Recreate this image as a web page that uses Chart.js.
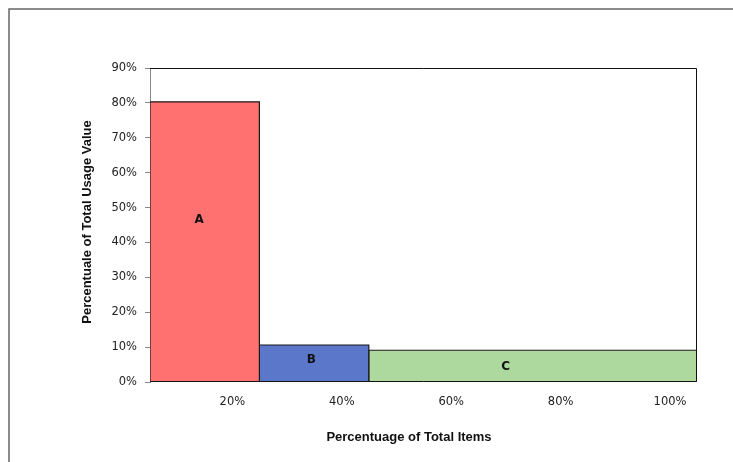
<!DOCTYPE html>
<html>
<head>
<meta charset="utf-8">
<title>ABC analysis</title>
<style>
  html, body { margin: 0; padding: 0; background: #fff; }
  #wrap { width: 733px; height: 462px; }
</style>
</head>
<body>
<div id="wrap"><canvas id="abcChart" width="733" height="462"></canvas></div>
<script src="https://cdn.jsdelivr.net/npm/chart.js@4/dist/chart.umd.min.js"></script>
<script>
// data
const classes = ['A', 'B', 'C'];
const itemBounds = [0, 20, 40, 100];        // % of total items (block edges)
const usageShare = [80.3, 10.6, 9.1];       // % of total usage value
const labelSpots = [[9, 46.5], [29.5, 6.2], [65, 4.4]]; // where the letters sit
const xTicks = [20, 40, 60, 80, 100];
const yTicks = [0, 10, 20, 30, 40, 50, 60, 70, 80, 90];
const fills = ['#FF7171', '#5B77C9', '#ADD99E'];

const tickFont = { family: 'Tahoma, "DejaVu Sans", sans-serif', size: 11.5 };
const titleFont = 'bold 13px "Liberation Sans", Arial, sans-serif';

const ctx = document.getElementById('abcChart').getContext('2d');

// each class is a closed block from the x edges up to its share
const datasets = classes.map((c, i) => ({
  label: c,
  data: [
    { x: itemBounds[i], y: 0 },
    { x: itemBounds[i], y: usageShare[i] },
    { x: itemBounds[i + 1], y: usageShare[i] },
    { x: itemBounds[i + 1], y: 0 },
  ],
  showLine: true,
  fill: 'origin',
  backgroundColor: fills[i],
  borderColor: '#1a1a1a',
  borderWidth: 1.2,
  pointRadius: 0,
  tension: 0,
}));

const outerFrame = {
  id: 'outerFrame',
  beforeDraw(chart) {
    const c = chart.ctx;
    c.save();
    c.strokeStyle = '#666';
    c.lineWidth = 1.5;
    c.beginPath();
    c.moveTo(9, chart.height);
    c.lineTo(9, 9);
    c.lineTo(chart.width, 9);
    c.stroke();
    c.restore();
  },
};

const plotBits = {
  id: 'plotBits',
  afterDatasetsDraw(chart) {
    const c = chart.ctx;
    const a = chart.chartArea;
    const xs = chart.scales.x;
    const ys = chart.scales.y;
    c.save();
    // top / right / bottom edges of the plot
    c.strokeStyle = '#111';
    c.lineWidth = 1;
    c.beginPath();
    c.moveTo(a.left, a.top + 0.5);
    c.lineTo(a.right - 0.5, a.top + 0.5);
    c.lineTo(a.right - 0.5, a.bottom - 0.5);
    c.lineTo(a.left, a.bottom - 0.5);
    c.stroke();

    // class letters
    c.fillStyle = '#111';
    c.font = 'bold 12px Tahoma, "DejaVu Sans", sans-serif';
    c.textAlign = 'center';
    c.textBaseline = 'middle';
    classes.forEach((name, i) => {
      c.fillText(name, xs.getPixelForValue(labelSpots[i][0]), ys.getPixelForValue(labelSpots[i][1]));
    });

    // axis titles
    c.font = titleFont;
    c.fillText('Percentuage of Total Items', 409, 437);
    c.translate(87, 222);
    c.rotate(-Math.PI / 2);
    c.fillText('Percentuale of Total Usage Value', 0, 0);
    c.restore();
  },
};

new Chart(ctx, {
  type: 'scatter',
  data: { datasets },
  options: {
    responsive: false,
    animation: false,
    devicePixelRatio: 1,
    layout: { padding: { left: 80, top: 68, right: 36, bottom: 18 } },
    plugins: {
      legend: { display: false },
      tooltip: { enabled: false },
    },
    scales: {
      x: {
        type: 'linear',
        min: 0,
        max: 100,
        afterBuildTicks: (s) => { s.ticks = xTicks.map(v => ({ value: v })); },
        afterFit: (s) => { s.height = 62; },
        grid: { display: false, drawTicks: false },
        border: { display: false },
        ticks: {
          padding: 13,
          labelOffset: -27,
          autoSkip: false,
          maxRotation: 0,
          color: '#222',
          font: tickFont,
          callback: (v) => v + '%',
        },
      },
      y: {
        min: 0,
        max: 90,
        afterBuildTicks: (s) => { s.ticks = yTicks.map(v => ({ value: v })); },
        afterFit: (s) => { s.width = 70; },
        grid: { drawOnChartArea: false, tickLength: 5, color: '#888' },
        border: { color: '#888' },
        ticks: {
          padding: 8,
          color: '#222',
          font: tickFont,
          callback: (v) => v + '%',
        },
      },
    },
  },
  plugins: [outerFrame, plotBits],
});
</script>
</body>
</html>
